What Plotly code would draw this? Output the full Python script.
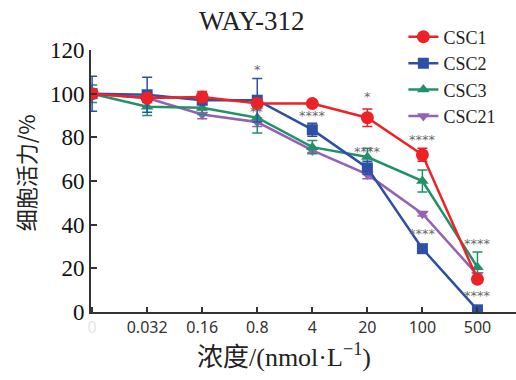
import plotly.graph_objects as go

categories = ["0", "0.032", "0.16", "0.8", "4", "20", "100", "500"]
csc1 = [100, 98, 98.5, 95.5, 95.5, 89, 72, 15]
csc1_err = [2, 2, 2.5, 2, 1, 4, 3, 1.5]
csc2 = [100, 99.5, 97, 97, 83.5, 66, 29, 1]
csc2_err = [8, 8, 2, 10, 3, 3, 1, 1]
csc3 = [100, 94, 93.5, 89, 75.5, 71, 60, 20.5]
csc3_err = [4, 4, 3, 7, 3, 4, 5, 7]
csc21 = [100, 98, 90.5, 87, 74, 63, 45, 17]
csc21_err = [1, 1, 2, 2, 1, 2, 1, 1]

# significance marks: (category index, y value, text)
sig_idx = [3, 3, 4, 5, 5, 6, 6, 7, 7]
sig_y = [111, 92, 90, 98.5, 73.5, 79, 36, 31.5, 7.5]
sig_txt = ["*", "**", "****", "*", "****", "****", "****", "****", "****"]

series = [
    ("CSC21", csc21, csc21_err, "#9561b5", "triangle-down", 11, 4),
    ("CSC3", csc3, csc3_err, "#22916a", "triangle-up", 11, 3),
    ("CSC2", csc2, csc2_err, "#2d4fa6", "square", 11, 2),
    ("CSC1", csc1, csc1_err, "#ec2227", "circle", 13, 1),
]

fig = go.Figure()
xs = list(range(len(categories)))
for name, ys, err, color, sym, size, rank in series:
    fig.add_trace(go.Scatter(
        x=xs, y=ys, name=name, mode="lines+markers",
        line=dict(color=color, width=2.5),
        marker=dict(color=color, symbol=sym, size=size),
        error_y=dict(type="data", array=err, visible=True, color=color,
                     thickness=1.5, width=5),
        legendrank=rank,
    ))

for i, yv, t in zip(sig_idx, sig_y, sig_txt):
    fig.add_annotation(x=i, y=yv, xref="x", yref="y", text=t, showarrow=False,
                       font=dict(family="DejaVu Sans", size=13, color="#6a6a6a"))

ticktext = ["<span style='color:#e6e6e6'>0</span>"] + categories[1:]

serif = "Liberation Serif"
cjk = "Noto Sans CJK SC"

fig.add_annotation(text="浓度/(nmol·L<sup>−1</sup>)", xref="paper", yref="paper",
                   x=0.455, y=-0.165, xanchor="center", yanchor="middle",
                   showarrow=False, font=dict(family="Liberation Serif, Noto Sans CJK SC", size=26, color="#222"))
fig.add_annotation(text="细胞活力/%", xref="paper", yref="paper",
                   x=-0.155, y=0.53, xanchor="center", yanchor="middle",
                   textangle=-90, showarrow=False,
                   font=dict(family=cjk, size=22, color="#222"))

fig.update_layout(
    width=516, height=380,
    margin=dict(l=91, r=0, t=50, b=68, autoexpand=False),
    plot_bgcolor="white", paper_bgcolor="white",
    font=dict(family=serif, color="#222"),
    title=dict(text="WAY-312", x=0.488, xanchor="center", y=0.947, yanchor="middle",
               font=dict(family=serif, size=27, color="#222")),
    showlegend=True,
    legend=dict(x=0.735, y=1.12, xanchor="left", yanchor="top",
                font=dict(family=serif, size=18, color="#222"),
                bgcolor="rgba(0,0,0,0)", tracegroupgap=0, itemwidth=30),
    xaxis=dict(
        range=[-0.02, 7.7], tickmode="array", tickvals=xs, ticktext=ticktext,
        showline=True, linecolor="#333", linewidth=2, ticks="inside", ticklen=5,
        tickcolor="#333", tickwidth=1.5, showgrid=False, zeroline=False,
        automargin=False,
        tickfont=dict(family="Noto Sans", size=16, color="#333"),
    ),
    yaxis=dict(
        range=[0, 120], tickvals=[0, 20, 40, 60, 80, 100, 120],
        showline=True, linecolor="#333", linewidth=2, ticks="inside", ticklen=6,
        tickcolor="#333", tickwidth=1.5, showgrid=False, zeroline=False,
        automargin=False,
        tickfont=dict(family=serif, size=23, color="#111"),
    ),
)

fig.write_html("out.html", config={"displayModeBar": False},
               post_script="document.body.style.margin='0';")
